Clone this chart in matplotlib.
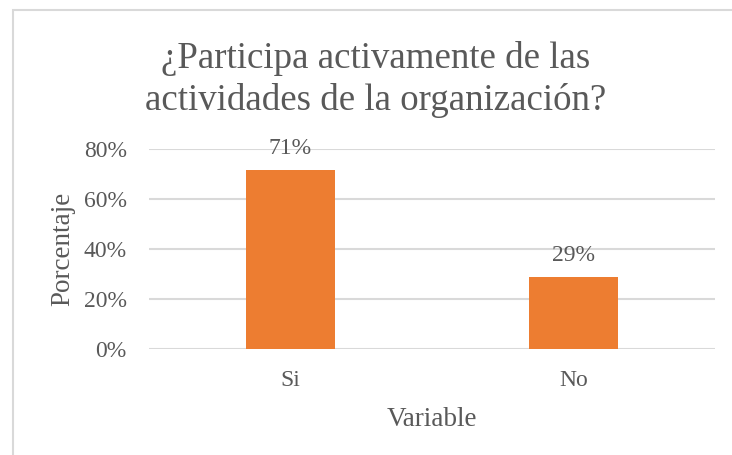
import matplotlib.pyplot as plt
from matplotlib.patches import Rectangle

categories = ['Si', 'No']
values = [71.43, 28.57]
labels = ['71%', '29%']
yticks = [0, 20, 40, 60, 80]

bar_color = '#ED7D31'
text_color = '#595959'
grid_color = '#D9D9D9'

plt.rcParams['font.family'] = ['Liberation Serif', 'DejaVu Serif']

fig = plt.figure(figsize=(7.32, 4.55), dpi=100)
ax = fig.add_axes([0.2036, 0.2336, 0.7732, 0.4396])

# chart border (clipped at right/bottom like the reference)
fig.patches.append(Rectangle((13 / 732, -0.1), 1.2, (455 - 10) / 455 + 0.1,
                             transform=fig.transFigure, fill=False,
                             edgecolor='#D9D9D9', linewidth=1.5))

x = range(len(categories))
bars = ax.bar(x, values, width=0.315, color=bar_color, zorder=3)

for bar, lab in zip(bars, labels):
    ax.annotate(lab, (bar.get_x() + bar.get_width() / 2, bar.get_height()),
                xytext=(0, 11.5), textcoords='offset points',
                ha='center', va='baseline', fontsize=17, color=text_color)

ax.set_xlim(-0.5, 1.5)
ax.set_ylim(0, 80)
ax.set_yticks(yticks)
ax.set_yticklabels([f'{t}%' for t in yticks])
ax.set_xticks(list(x))
ax.set_xticklabels(categories)
ax.tick_params(axis='both', length=0, labelsize=17, colors=text_color)
ax.tick_params(axis='y', pad=16)
ax.tick_params(axis='x', pad=15)
ax.grid(axis='y', color=grid_color, linewidth=1.5, zorder=0)
for s in ax.spines.values():
    s.set_visible(False)

ax.set_ylabel('Porcentaje', fontsize=19.5, color=text_color, labelpad=6)
ax.set_xlabel('Variable', fontsize=19.5, color=text_color, labelpad=12)

fig.text(0.5136, 0.826, '¿Participa activamente de las\nactividades de la organización?',
         ha='center', va='center', fontsize=26.6, color=text_color, linespacing=1.25)

fig.savefig('out.png', dpi=100)
